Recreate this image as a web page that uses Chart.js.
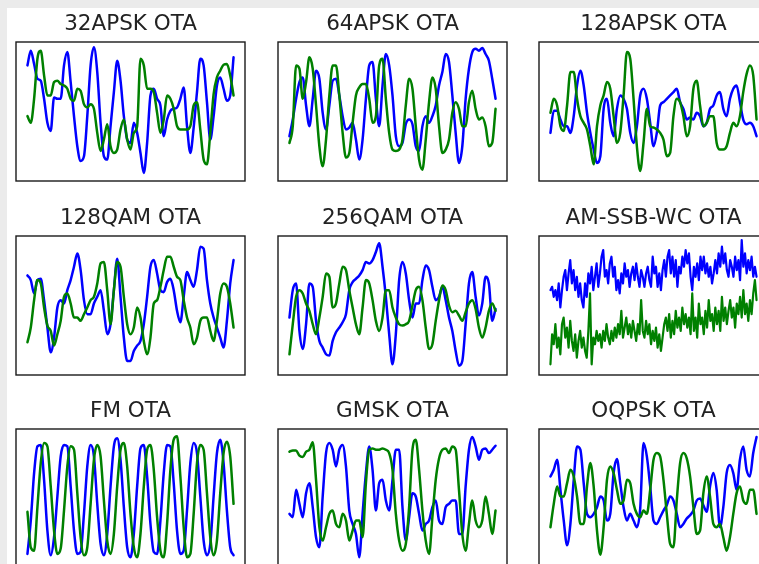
<!DOCTYPE html>
<html><head><meta charset="utf-8">
<script src="https://cdn.jsdelivr.net/npm/chart.js@4.4.1/dist/chart.umd.min.js"></script>
<style>
html,body{margin:0;padding:0;width:759px;height:564px;overflow:hidden;background:#ebebeb;}
#sheet{position:absolute;left:7px;top:8px;width:800px;height:600px;background:#fff;}
.panel{position:absolute;}
</style></head><body><div id="sheet"></div>
<script>
// ---- data ----
const titles = ["32APSK OTA","64APSK OTA","128APSK OTA","128QAM OTA","256QAM OTA","AM-SSB-WC OTA","FM OTA","GMSK OTA","OQPSK OTA"];

const apsk32_I = [0.69,0.91,0.71,0.49,0.46,0.19,-0.17,-0.29,0.21,0.19,0.19,0.69,0.89,0.44,-0.07,-0.52,-0.74,-0.67,-0.07,0.69,0.96,0.59,-0.17,-0.67,-0.72,-0.22,0.29,0.76,0.46,-0.07,-0.42,-0.47,-0.17,-0.32,-0.62,-0.92,-0.47,0.24,0.34,0.19,0.09,-0.37,-0.12,0.01,0.04,0.06,0.19,0.36,-0.22,-0.62,-0.24,0.29,0.79,0.69,0.14,-0.42,-0.07,0.39,0.51,0.34,0.16,0.24,0.81];
const apsk32_Q = [-0.07,-0.17,0.19,0.79,0.91,0.54,0.24,0.24,0.44,0.46,0.41,0.39,0.34,0.19,0.16,0.34,0.31,0.11,0.06,0.11,0.04,-0.32,-0.59,-0.42,-0.19,-0.52,-0.62,-0.57,-0.27,-0.12,-0.42,-0.57,-0.32,-0.22,0.79,0.69,0.34,0.34,0.29,-0.02,-0.32,-0.12,0.24,0.19,0.04,-0.22,-0.27,-0.27,-0.27,-0.22,0.09,0.14,-0.27,-0.72,-0.79,-0.32,0.26,0.51,0.61,0.70,0.71,0.54,0.24];

const apsk64_I = [-0.37,-0.12,0.19,0.44,0.51,0.09,-0.22,0.19,0.61,0.49,-0.02,-0.27,0.09,0.46,0.49,0.24,-0.07,-0.27,-0.24,-0.17,-0.42,-0.72,-0.42,0.19,0.69,0.74,0.19,-0.22,0.39,0.86,0.69,0.24,-0.37,-0.52,-0.47,-0.19,-0.12,-0.19,-0.52,-0.59,-0.22,-0.07,-0.17,-0.07,0.09,0.39,0.59,0.86,0.74,0.24,-0.32,-0.77,-0.52,0.19,0.64,0.89,0.94,0.91,0.95,0.86,0.76,0.49,0.19];
const apsk64_Q = [-0.47,-0.22,0.69,0.64,0.19,0.44,0.81,0.64,0.09,-0.52,-0.82,-0.42,0.24,0.69,0.69,0.24,-0.32,-0.69,-0.62,-0.17,0.24,0.36,0.41,0.41,0.19,-0.17,-0.07,0.69,0.79,0.19,-0.32,-0.57,-0.59,-0.57,-0.42,0.09,0.49,0.34,-0.22,-0.72,-0.87,-0.42,0.14,0.51,0.34,-0.22,-0.62,-0.57,-0.42,-0.02,0.14,0.04,-0.22,-0.22,0.14,0.31,0.04,-0.12,-0.09,-0.22,-0.52,-0.47,0.04];

const apsk128_I = [-0.32,0.01,0.01,-0.12,-0.22,-0.22,-0.32,-0.07,0.39,0.61,0.39,-0.02,-0.32,-0.57,-0.77,-0.67,0.04,0.19,-0.17,-0.37,0.04,0.24,0.19,0.04,-0.32,-0.47,-0.22,0.24,0.34,0.19,-0.17,-0.52,-0.32,0.09,0.14,0.19,0.24,0.29,0.34,0.14,0.04,-0.12,-0.09,-0.12,-0.02,-0.07,-0.22,-0.17,0.04,0.09,0.24,0.29,0.04,-0.07,0.19,0.34,0.39,0.14,-0.12,-0.19,-0.17,-0.22,-0.37];
const apsk128_Q = [-0.02,0.19,0.09,-0.22,-0.29,0.09,0.59,0.59,0.19,-0.07,-0.17,-0.27,-0.52,-0.79,-0.22,0.09,0.24,0.44,0.34,-0.07,-0.47,-0.32,0.24,0.89,0.79,0.19,-0.52,-0.89,-0.47,0.04,-0.22,-0.24,-0.27,-0.32,-0.42,-0.67,-0.62,-0.07,0.19,0.14,-0.07,-0.37,-0.22,0.34,0.46,0.09,-0.22,-0.17,-0.07,-0.07,-0.47,-0.57,-0.57,-0.52,-0.32,-0.17,-0.22,-0.07,0.29,0.56,0.69,0.54,-0.12];

const qam128_I = [0.45,0.38,0.18,0.38,0.40,0.08,-0.33,-0.70,-0.48,-0.03,0.08,0.03,0.23,0.38,0.58,0.78,0.53,0.08,-0.13,-0.13,0.03,0.13,0.23,-0.08,-0.43,-0.28,0.23,0.70,0.13,-0.48,-0.83,-0.83,-0.68,-0.60,-0.53,-0.28,0.13,0.58,0.68,0.48,0.23,0.20,0.35,0.40,0.23,-0.08,-0.25,0.13,0.50,0.38,0.28,0.53,0.88,0.85,0.38,0.03,-0.18,-0.33,-0.48,-0.63,-0.23,0.33,0.68];
const qam128_Q = [-0.55,-0.33,0.08,0.38,0.33,-0.03,-0.30,-0.38,-0.60,-0.43,-0.23,0.13,0.18,0.03,-0.18,-0.18,-0.23,-0.13,-0.03,0.08,0.13,0.33,0.63,0.65,0.23,-0.28,0.23,0.65,0.58,0.13,-0.28,-0.43,-0.33,-0.03,-0.18,-0.53,-0.73,-0.48,0.03,0.08,0.28,0.53,0.73,0.73,0.58,0.43,0.38,0.08,-0.18,-0.33,-0.58,-0.48,-0.23,-0.18,-0.18,-0.38,-0.53,-0.23,0.18,0.33,0.28,0.03,-0.33];

const qam256_I = [-0.18,0.23,0.33,-0.38,-0.65,-0.28,0.33,0.28,-0.23,-0.53,-0.63,-0.73,-0.75,-0.53,-0.40,-0.33,-0.25,-0.13,0.23,0.35,0.40,0.45,0.53,0.65,0.63,0.68,0.80,0.93,0.58,0.13,-0.43,-0.88,-0.43,0.38,0.65,0.48,0.08,-0.18,0.03,0.03,0.38,0.60,0.53,0.28,0.08,0.13,0.28,0.08,-0.18,-0.38,-0.68,-0.90,-0.83,-0.28,0.33,0.50,0.13,-0.15,0.03,0.43,0.33,-0.23,-0.05];
const qam256_Q = [-0.73,-0.28,0.13,0.23,0.18,0.03,-0.08,-0.28,-0.43,-0.18,0.13,0.48,0.43,-0.03,0.03,0.33,0.58,0.53,0.23,-0.03,-0.28,-0.43,-0.03,0.38,0.33,0.08,-0.23,-0.38,-0.18,0.23,0.23,-0.03,-0.18,-0.28,-0.30,-0.28,-0.23,0.00,0.23,0.28,0.08,-0.33,-0.65,-0.58,-0.23,0.08,0.30,0.23,0.00,-0.10,-0.08,-0.15,-0.23,-0.10,0.03,0.08,-0.05,-0.33,-0.48,-0.33,-0.08,0.03,-0.08];

const amssb_I = [0.23,0.28,0.13,0.23,0.08,0.33,-0.03,0.23,0.43,0.53,0.23,0.48,0.68,0.33,0.53,0.23,0.43,0.13,0.33,0.08,-0.03,0.33,0.13,0.48,0.33,0.58,0.23,0.43,0.63,0.28,0.48,0.73,0.83,0.43,0.53,0.33,0.63,0.73,0.43,0.58,0.23,0.38,0.18,0.48,0.33,0.63,0.43,0.53,0.28,0.48,0.58,0.38,0.63,0.43,0.28,0.53,0.43,0.28,0.48,0.58,0.38,0.28,0.73,0.48,0.58,0.28,0.48,0.23,0.53,0.68,0.43,0.73,0.83,0.48,0.73,0.43,0.68,0.28,0.58,0.48,0.73,0.58,0.83,0.63,0.78,0.43,0.23,0.58,0.43,0.63,0.38,0.73,0.53,0.73,0.48,0.63,0.43,0.58,0.33,0.48,0.68,0.48,0.78,0.58,0.88,0.63,0.78,0.53,0.43,0.68,0.58,0.43,0.73,0.53,0.68,0.38,0.98,0.58,0.78,0.48,0.68,0.53,0.73,0.43,0.58,0.43];
const amssb_Q = [-0.88,-0.43,-0.58,-0.28,-0.63,-0.48,-0.73,-0.28,-0.18,-0.48,-0.33,-0.63,-0.23,-0.53,-0.68,-0.43,-0.78,-0.53,-0.38,-0.63,-0.48,-0.68,-0.78,-0.38,0.18,-0.88,-0.48,-0.58,-0.38,-0.53,-0.43,-0.63,-0.38,-0.53,-0.28,-0.48,-0.58,-0.38,-0.53,-0.33,-0.48,-0.28,-0.43,-0.08,-0.48,-0.33,-0.18,-0.43,-0.28,-0.48,-0.23,-0.38,-0.53,-0.28,-0.43,0.08,-0.38,-0.48,-0.23,-0.43,-0.28,-0.58,-0.38,-0.53,-0.33,-0.63,-0.43,-0.68,-0.48,-0.28,-0.18,-0.38,-0.13,-0.48,-0.23,-0.43,-0.08,-0.33,-0.18,-0.38,-0.03,-0.28,-0.13,-0.33,-0.18,-0.43,0.18,-0.38,-0.18,-0.48,0.03,-0.28,-0.18,-0.43,-0.08,-0.33,0.08,-0.23,-0.13,-0.38,-0.03,-0.28,-0.08,-0.38,0.13,-0.23,-0.03,-0.28,-0.08,0.08,-0.18,-0.03,-0.33,0.03,-0.13,0.13,-0.18,0.23,-0.13,0.03,-0.23,0.08,-0.13,0.18,0.38,0.08];

const fm_I = [-0.83,-0.33,0.38,0.78,0.80,0.28,-0.48,-0.85,-0.58,0.03,0.63,0.80,0.78,0.18,-0.48,-0.83,-0.80,-0.23,0.48,0.80,0.63,-0.08,-0.68,-0.85,-0.53,0.18,0.78,0.90,0.58,-0.13,-0.73,-0.88,-0.53,0.18,0.75,0.80,0.33,-0.38,-0.80,-0.83,-0.33,0.38,0.80,0.78,0.23,-0.48,-0.83,-0.78,-0.18,0.53,0.83,0.68,0.03,-0.63,-0.85,-0.68,0.03,0.68,0.88,0.53,-0.18,-0.73,-0.85];
const fm_Q = [-0.20,-0.73,-0.78,-0.13,0.53,0.83,0.78,0.18,-0.48,-0.83,-0.75,-0.18,0.48,0.78,0.73,0.08,-0.58,-0.85,-0.73,-0.08,0.58,0.80,0.63,-0.03,-0.63,-0.83,-0.53,0.18,0.73,0.83,0.48,-0.23,-0.73,-0.88,-0.53,0.18,0.73,0.80,0.43,-0.28,-0.78,-0.88,-0.38,0.43,0.88,0.93,0.33,-0.43,-0.88,-0.83,-0.23,0.53,0.80,0.73,0.08,-0.58,-0.85,-0.63,0.08,0.68,0.85,0.63,-0.08];

const gmsk_I = [-0.23,-0.28,0.13,-0.08,-0.28,0.08,0.23,-0.13,-0.58,-0.73,0.03,0.68,0.83,0.73,0.48,0.73,0.80,0.48,-0.18,-0.38,-0.53,-0.88,-0.23,0.38,0.78,0.43,-0.18,0.23,0.28,-0.03,-0.18,0.28,0.73,0.73,-0.13,-0.63,-0.28,0.08,0.03,-0.23,-0.48,-0.38,-0.33,-0.13,-0.03,-0.33,-0.38,-0.13,-0.08,-0.03,-0.03,-0.53,-0.53,0.18,0.73,0.92,0.78,0.58,0.73,0.75,0.68,0.73,0.79];
const gmsk_Q = [0.70,0.72,0.72,0.64,0.62,0.70,0.73,0.84,0.28,-0.43,-0.63,-0.43,-0.23,-0.18,-0.38,-0.43,-0.23,-0.33,-0.63,-0.48,-0.33,-0.33,-0.58,0.23,0.73,0.75,0.73,0.73,0.75,0.73,0.68,0.43,-0.23,-0.63,-0.78,-0.68,-0.13,0.73,0.88,0.43,-0.18,-0.63,-0.83,-0.28,0.28,0.60,0.73,0.75,0.68,0.78,0.73,0.13,-0.53,-0.78,-0.38,-0.03,-0.33,-0.43,-0.33,0.03,-0.23,-0.53,-0.18];

const oqpsk_I = [0.33,0.43,0.58,0.13,-0.33,-0.70,-0.38,0.28,0.78,0.73,0.23,-0.23,-0.28,-0.23,-0.13,0.03,-0.03,-0.33,-0.23,0.38,0.59,0.23,-0.13,-0.33,-0.23,-0.33,-0.43,-0.15,0.83,0.63,0.18,-0.33,-0.38,-0.28,-0.18,-0.10,0.03,-0.03,-0.23,-0.43,-0.38,-0.30,-0.25,-0.18,-0.03,0.00,-0.10,-0.20,0.18,0.38,0.13,-0.43,-0.13,0.38,0.50,0.38,0.13,0.58,0.78,0.43,0.33,0.68,0.92];
const oqpsk_Q = [-0.43,-0.08,0.18,0.03,0.03,0.23,0.43,0.33,0.03,-0.38,-0.38,0.18,0.53,0.18,-0.48,-0.84,-0.43,0.28,0.48,0.38,0.13,-0.08,-0.03,0.28,0.23,-0.08,-0.23,-0.28,-0.18,-0.23,0.13,0.58,0.68,0.63,0.28,-0.23,-0.68,-0.73,-0.03,0.53,0.68,0.60,0.33,-0.13,-0.53,-0.48,0.08,0.33,0.03,-0.38,-0.43,-0.38,-0.58,-0.78,-0.58,-0.23,0.08,0.18,-0.03,-0.08,0.13,0.13,-0.23];

const seriesI = [apsk32_I, apsk64_I, apsk128_I, qam128_I, qam256_I, amssb_I, fm_I, gmsk_I, oqpsk_I];
const seriesQ = [apsk32_Q, apsk64_Q, apsk128_Q, qam128_Q, qam256_Q, amssb_Q, fm_Q, gmsk_Q, oqpsk_Q];

// ---- layout (not data) ----
const boxLeft = [16, 278, 539];
const boxTop = [42, 236, 429];
const boxW = 229, boxH = 139, titleH = 34, pad = 3;

const framePlugin = {
  id: 'frame',
  afterDatasetsDraw(chart) {
    const {ctx, chartArea: a} = chart;
    ctx.save();
    ctx.strokeStyle = '#1a1a1a';
    ctx.lineWidth = 1.4;
    ctx.strokeRect(a.left, a.top, a.right - a.left, a.bottom - a.top);
    ctx.restore();
  }
};

for (let k = 0; k < 9; k++) {
  const r = Math.floor(k / 3), c = k % 3;
  const div = document.createElement('div');
  div.className = 'panel';
  div.style.left = (boxLeft[c] - pad) + 'px';
  div.style.top = (boxTop[r] - titleH) + 'px';
  div.style.width = (boxW + 2 * pad) + 'px';
  div.style.height = (boxH + titleH + pad) + 'px';
  const cv = document.createElement('canvas');
  div.appendChild(cv);
  document.body.appendChild(div);
  const I = seriesI[k], Q = seriesQ[k];
  const R = Math.max(I.length, Q.length) - 1;
  const noisy = I.length > 100;
  const common = {borderWidth: noisy ? 2.2 : 2.5, pointRadius: 0,
    cubicInterpolationMode: noisy ? 'default' : 'monotone', tension: 0, borderJoinStyle: 'round', borderCapStyle: 'round'};
  new Chart(cv, {
    type: 'line',
    data: {
      datasets: [
        Object.assign({data: I.map((v, i) => ({x: i, y: v})), borderColor: '#0000ff', order: 1}, common),
        Object.assign({data: Q.map((v, i) => ({x: i, y: v})), borderColor: '#008000', order: 0}, common)
      ]
    },
    options: {
      responsive: true, maintainAspectRatio: false, animation: false, events: [],
      layout: {padding: {left: pad, right: pad, top: 0, bottom: pad}},
      scales: {
        x: {type: 'linear', display: false, min: -R / 18, max: R + R / 18},
        y: {type: 'linear', display: false, min: -1.04, max: 1.04}
      },
      plugins: {
        legend: {display: false}, tooltip: {enabled: false},
        title: {display: true, text: titles[k], color: '#222',
          font: {family: 'DejaVu Sans', size: 21.5, weight: 'normal', lineHeight: 1.2},
          padding: {top: 3.6, bottom: 4.6}}
      }
    },
    plugins: [framePlugin]
  });
}
</script></body></html>
